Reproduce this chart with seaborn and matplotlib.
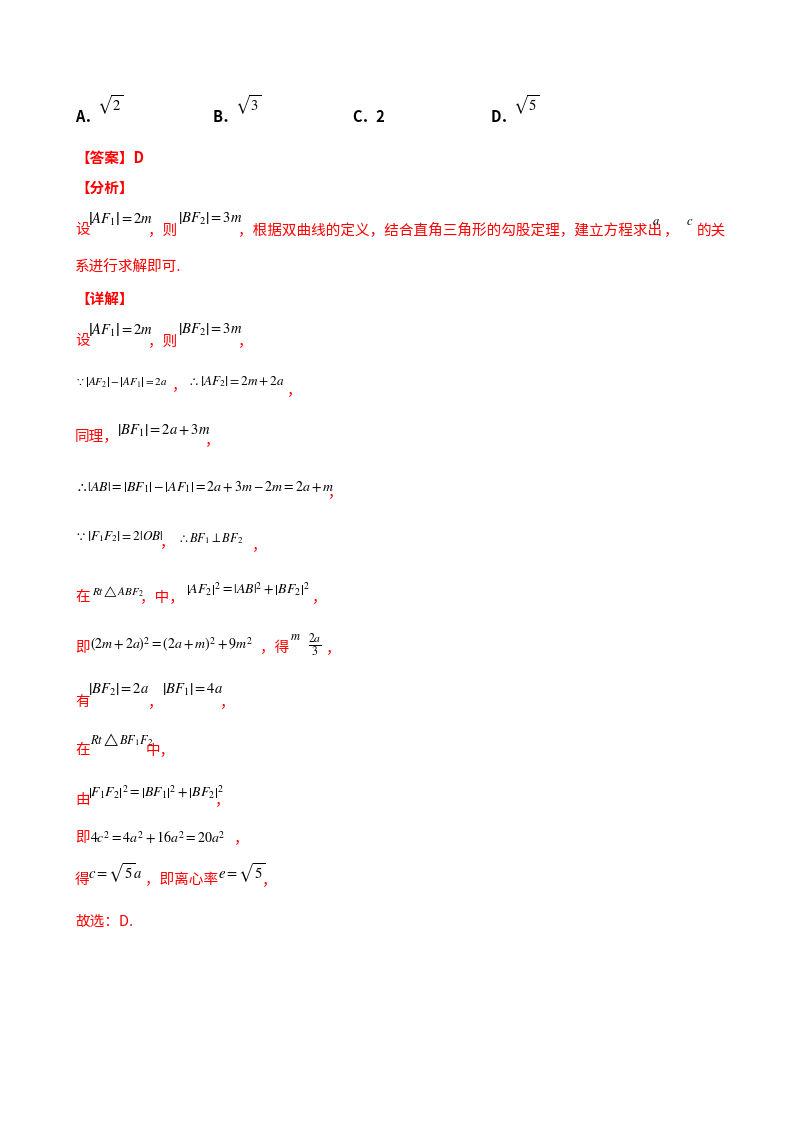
import matplotlib
matplotlib.use("Agg")
import matplotlib.pyplot as plt
import seaborn as sns

sns.set_theme(style="white")
plt.rcParams['font.family'] = ['Noto Sans CJK SC', 'DejaVu Sans']
plt.rcParams['mathtext.fontset'] = 'stix'

RED = "#ff0000"
BLK = "#000000"

# Options
option_labels = ["A．", "B．", "C．2", "D．"]
option_x = [75, 213, 352, 491]
option_roots = [r"$\sqrt{2}$", r"$\sqrt{3}$", "", r"$\sqrt{5}$"]

# Text lines: (x, y, text, color, size, bold)
segments = [
    (75, 158, "【答案】D", RED, 10.5, True),
    (75, 188, "【分析】", RED, 10.5, True),
    (75, 230, "设", RED, 10.5, False),
    (88, 219, r"$\left|AF_1\right|=2m$", BLK, 10.5, False),
    (148, 230, "，则", RED, 10.5, False),
    (178, 219, r"$\left|BF_2\right|=3m$", BLK, 10.5, False),
    (238, 230, "，根据双曲线的定义，结合直角三角形的勾股定理，建立方程求出", RED, 10.5, False),
    (652, 221, r"$a$", BLK, 9, False),
    (664, 230, "，", RED, 10.5, False),
    (686, 221, r"$c$", BLK, 9, False),
    (697, 230, "的关", RED, 10.5, False),
    (75, 268, "系进行求解即可.", RED, 10.5, False),
    (75, 299, "【详解】", RED, 10.5, True),
    (75, 341, "设", RED, 10.5, False),
    (88, 330, r"$\left|AF_1\right|=2m$", BLK, 10.5, False),
    (148, 341, "，则", RED, 10.5, False),
    (178, 330, r"$\left|BF_2\right|=3m$", BLK, 10.5, False),
    (238, 341, "，", RED, 10.5, False),
    (75, 382, r"$\because\left|AF_2\right|-\left|AF_1\right|=2a$", BLK, 8, False),
    (172, 385, "，", RED, 10.5, False),
    (188, 382, r"$\therefore\left|AF_2\right|=2m+2a$", BLK, 9.5, False),
    (287, 390, "，", RED, 10.5, False),
    (75, 436, "同理，", RED, 10.5, False),
    (117, 431, r"$\left|BF_1\right|=2a+3m$", BLK, 10.5, False),
    (205, 440, "，", RED, 10.5, False),
    (75, 487, r"$\therefore\left|AB\right|=\left|BF_1\right|-\left|AF_1\right|=2a+3m-2m=2a+m$", BLK, 10, False),
    (328, 492, "，", RED, 10.5, False),
    (75, 537, r"$\because\left|F_1F_2\right|=2\left|OB\right|$", BLK, 9.5, False),
    (160, 542, "，", RED, 10.5, False),
    (178, 539, r"$\therefore BF_1\perp BF_2$", BLK, 9, False),
    (252, 545, "，", RED, 10.5, False),
    (75, 597, "在", RED, 10.5, False),
    (92, 592, r"$Rt\triangle ABF_2$", BLK, 8, False),
    (140, 597, "，中，", RED, 10.5, False),
    (186, 589, r"$\left|AF_2\right|^2=\left|AB\right|^2+\left|BF_2\right|^2$", BLK, 10, False),
    (312, 597, "，", RED, 10.5, False),
    (75, 648, "即", RED, 10.5, False),
    (90, 645, r"$(2m+2a)^2=(2a+m)^2+9m^2$", BLK, 10, False),
    (260, 648, "，得", RED, 10.5, False),
    (290, 636, r"$m$", BLK, 9, False),
    (308, 645, r"$\frac{2a}{3}$", BLK, 12, False),
    (326, 648, "，", RED, 10.5, False),
    (75, 702, "有", RED, 10.5, False),
    (88, 690, r"$\left|BF_2\right|=2a$", BLK, 10.5, False),
    (148, 702, "，", RED, 10.5, False),
    (162, 690, r"$\left|BF_1\right|=4a$", BLK, 10.5, False),
    (220, 702, "，", RED, 10.5, False),
    (75, 750, "在", RED, 10.5, False),
    (90, 740, r"$Rt\triangle BF_1F_2$", BLK, 9, False),
    (146, 750, "中，", RED, 10.5, False),
    (75, 800, "由", RED, 10.5, False),
    (88, 792, r"$\left|F_1F_2\right|^2=\left|BF_1\right|^2+\left|BF_2\right|^2$", BLK, 10, False),
    (215, 800, "，", RED, 10.5, False),
    (75, 838, "即", RED, 10.5, False),
    (90, 837, r"$4c^2=4a^2+16a^2=20a^2$", BLK, 10, False),
    (234, 838, "，", RED, 10.5, False),
    (75, 880, "得", RED, 10.5, False),
    (88, 873, r"$c=\sqrt{5}a$", BLK, 10.5, False),
    (145, 880, "，即离心率", RED, 10.5, False),
    (218, 873, r"$e=\sqrt{5}$", BLK, 10.5, False),
    (262, 880, "，", RED, 10.5, False),
    (75, 922, "故选：D.", RED, 10.5, False),
]

W, H = 800, 1132
fig = plt.figure(figsize=(W / 100, H / 100), dpi=100)
fig.patch.set_facecolor("white")

for lab, x, root in zip(option_labels, option_x, option_roots):
    fig.text(x / W, 1 - 117 / H, lab, fontsize=10.5, fontweight="bold", color=BLK, va="center", ha="left")
    if root:
        fig.text((x + 22) / W, 1 - 105 / H, root, fontsize=10.5, color=BLK, va="center", ha="left")

for x, y, t, c, s, b in segments:
    fig.text(x / W, 1 - y / H, t, fontsize=s, color=c, va="center", ha="left",
             fontweight="bold" if b else "normal")

fig.savefig("out.png", dpi=100, facecolor="white")
